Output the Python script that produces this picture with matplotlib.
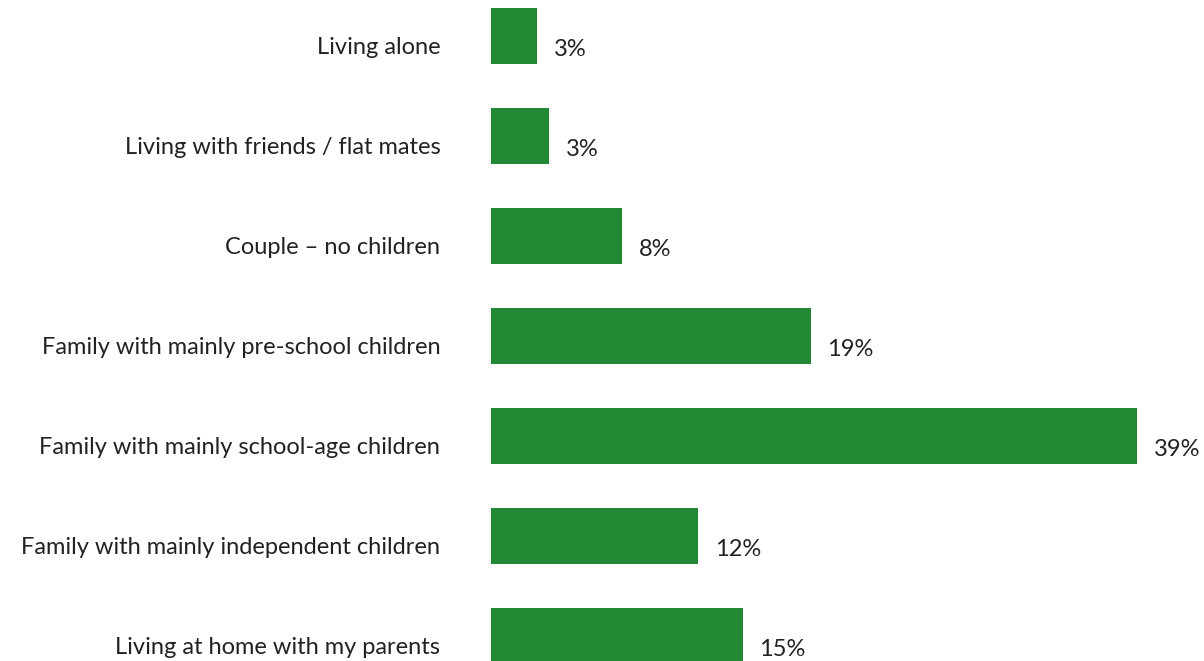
import matplotlib
matplotlib.use('Agg')
import matplotlib.pyplot as plt
import matplotlib.transforms as mtransforms

categories = ['Living alone', 'Living with friends / flat mates', 'Couple \u2013 no children',
              'Family with mainly pre-school children', 'Family with mainly school-age children',
              'Family with mainly independent children', 'Living at home with my parents']
values = [2.8, 3.5, 7.9, 19.3, 39.0, 12.5, 15.2]
labels = ['3%', '3%', '8%', '19%', '39%', '12%', '15%']

plt.rcParams['font.family'] = ['Lato', 'DejaVu Sans']

fig = plt.figure(figsize=(12.04, 6.61), dpi=100)
ax = fig.add_axes([491 / 1204, 0, 1 - 491 / 1204, 1])

pos = list(range(len(categories)))
ax.barh(pos, values, height=0.56, color='#228833')
for p, v, t in zip(pos, values, labels):
    ax.text(v + 1.0, p + 0.13, t, va='center', ha='left', fontsize=17, color='#222222')

ax.set_xlim(0, 43.05)
ax.set_ylim(6.25, -0.36)
ax.set_yticks(pos)
ax.set_yticklabels(categories, fontsize=17, color='#222222')
ax.tick_params(axis='y', length=0, pad=36.5)
shift = mtransforms.ScaledTranslation(0, -9 / 100, fig.dpi_scale_trans)
for lab in ax.get_yticklabels():
    lab.set_transform(lab.get_transform() + shift)
ax.set_xticks([])
for s in ax.spines.values():
    s.set_visible(False)

fig.savefig('out.png', dpi=100)
